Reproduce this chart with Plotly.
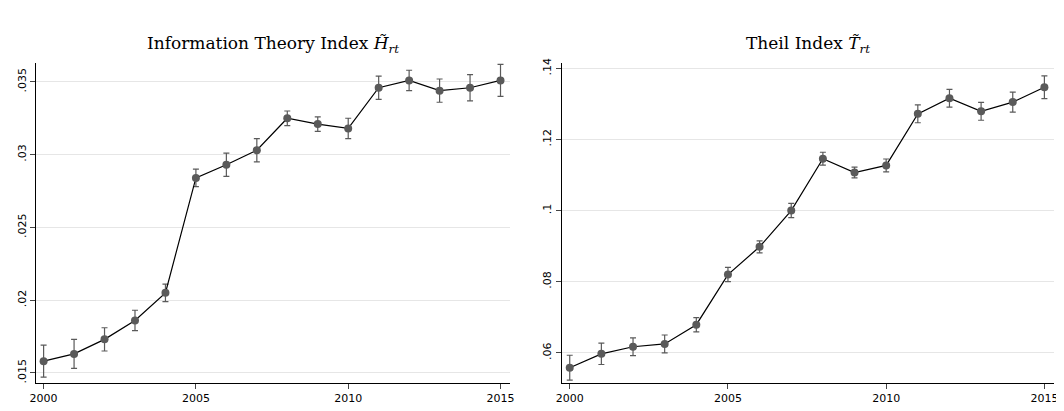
import plotly.graph_objects as go
from plotly.subplots import make_subplots

years = list(range(2000, 2016))
h_vals = [.0158,.0163,.0173,.0186,.0205,.0284,.0293,.0303,.0325,.0321,.0318,.0346,.0351,.0344,.0346,.0351]
h_err = [.0011,.0010,.0008,.0007,.0006,.0006,.0008,.0008,.0005,.0005,.0007,.0008,.0007,.0008,.0009,.0011]
t_vals = [.0558,.0597,.0617,.0625,.0679,.0820,.0898,.1000,.1146,.1107,.1127,.1272,.1316,.1279,.1305,.1347]
t_err = [.0035,.0030,.0025,.0025,.0020,.0020,.0017,.0020,.0018,.0015,.0018,.0025,.0025,.0025,.0028,.0032]
h_ticks = [.015,.02,.025,.03,.035]
h_labels = [".015",".02",".025",".03",".035"]
t_ticks = [.06,.08,.1,.12,.14]
t_labels = [".06",".08",".1",".12",".14"]

fig = make_subplots(rows=1, cols=2)
for i,(v,e) in enumerate([(h_vals,h_err),(t_vals,t_err)]):
    fig.add_trace(go.Scatter(x=years, y=v, mode="lines+markers",
        line=dict(color="black", width=1.2),
        marker=dict(color="#5a5a5a", size=8),
        error_y=dict(type="data", array=e, color="#5a5a5a", thickness=1.2, width=3),
        showlegend=False), row=1, col=i+1)

fig.update_layout(width=1064, height=411, plot_bgcolor="white", paper_bgcolor="white",
    margin=dict(l=28, r=8, t=55, b=36),
    font=dict(family="DejaVu Sans", size=11, color="black"))
fig.update_xaxes(range=[1999.75, 2015.3], tickvals=[2000,2005,2010,2015], showline=True,
    linecolor="black", ticks="outside", ticklen=5, showgrid=False, zeroline=False)
fig.update_yaxes(showline=True, linecolor="black", ticks="outside", ticklen=5, tickangle=-90,
    showgrid=True, gridcolor="#e6e6e6", zeroline=False)
fig.update_layout(xaxis=dict(domain=[0.0, 0.463]), xaxis2=dict(domain=[0.514, 0.995]))
fig.update_yaxes(range=[.0143,.0363], tickvals=h_ticks, ticktext=h_labels, row=1, col=1)
fig.update_yaxes(range=[.0515,.1415], tickvals=t_ticks, ticktext=t_labels, row=1, col=2)
tf = dict(family="DejaVu Serif", size=17, color="black")
fig.add_annotation(x=0.5, y=1.0, xref="x domain", yref="paper", yshift=32, xanchor="center",
    showarrow=False, text="Information Theory Index <i>H̃<sub>rt</sub></i>", font=tf)
fig.add_annotation(x=0.5, y=1.0, xref="x2 domain", yref="paper", yshift=32, xanchor="center",
    showarrow=False, text="Theil Index <i>T̃<sub>rt</sub></i>", font=tf)
fig.write_html("out.html")
